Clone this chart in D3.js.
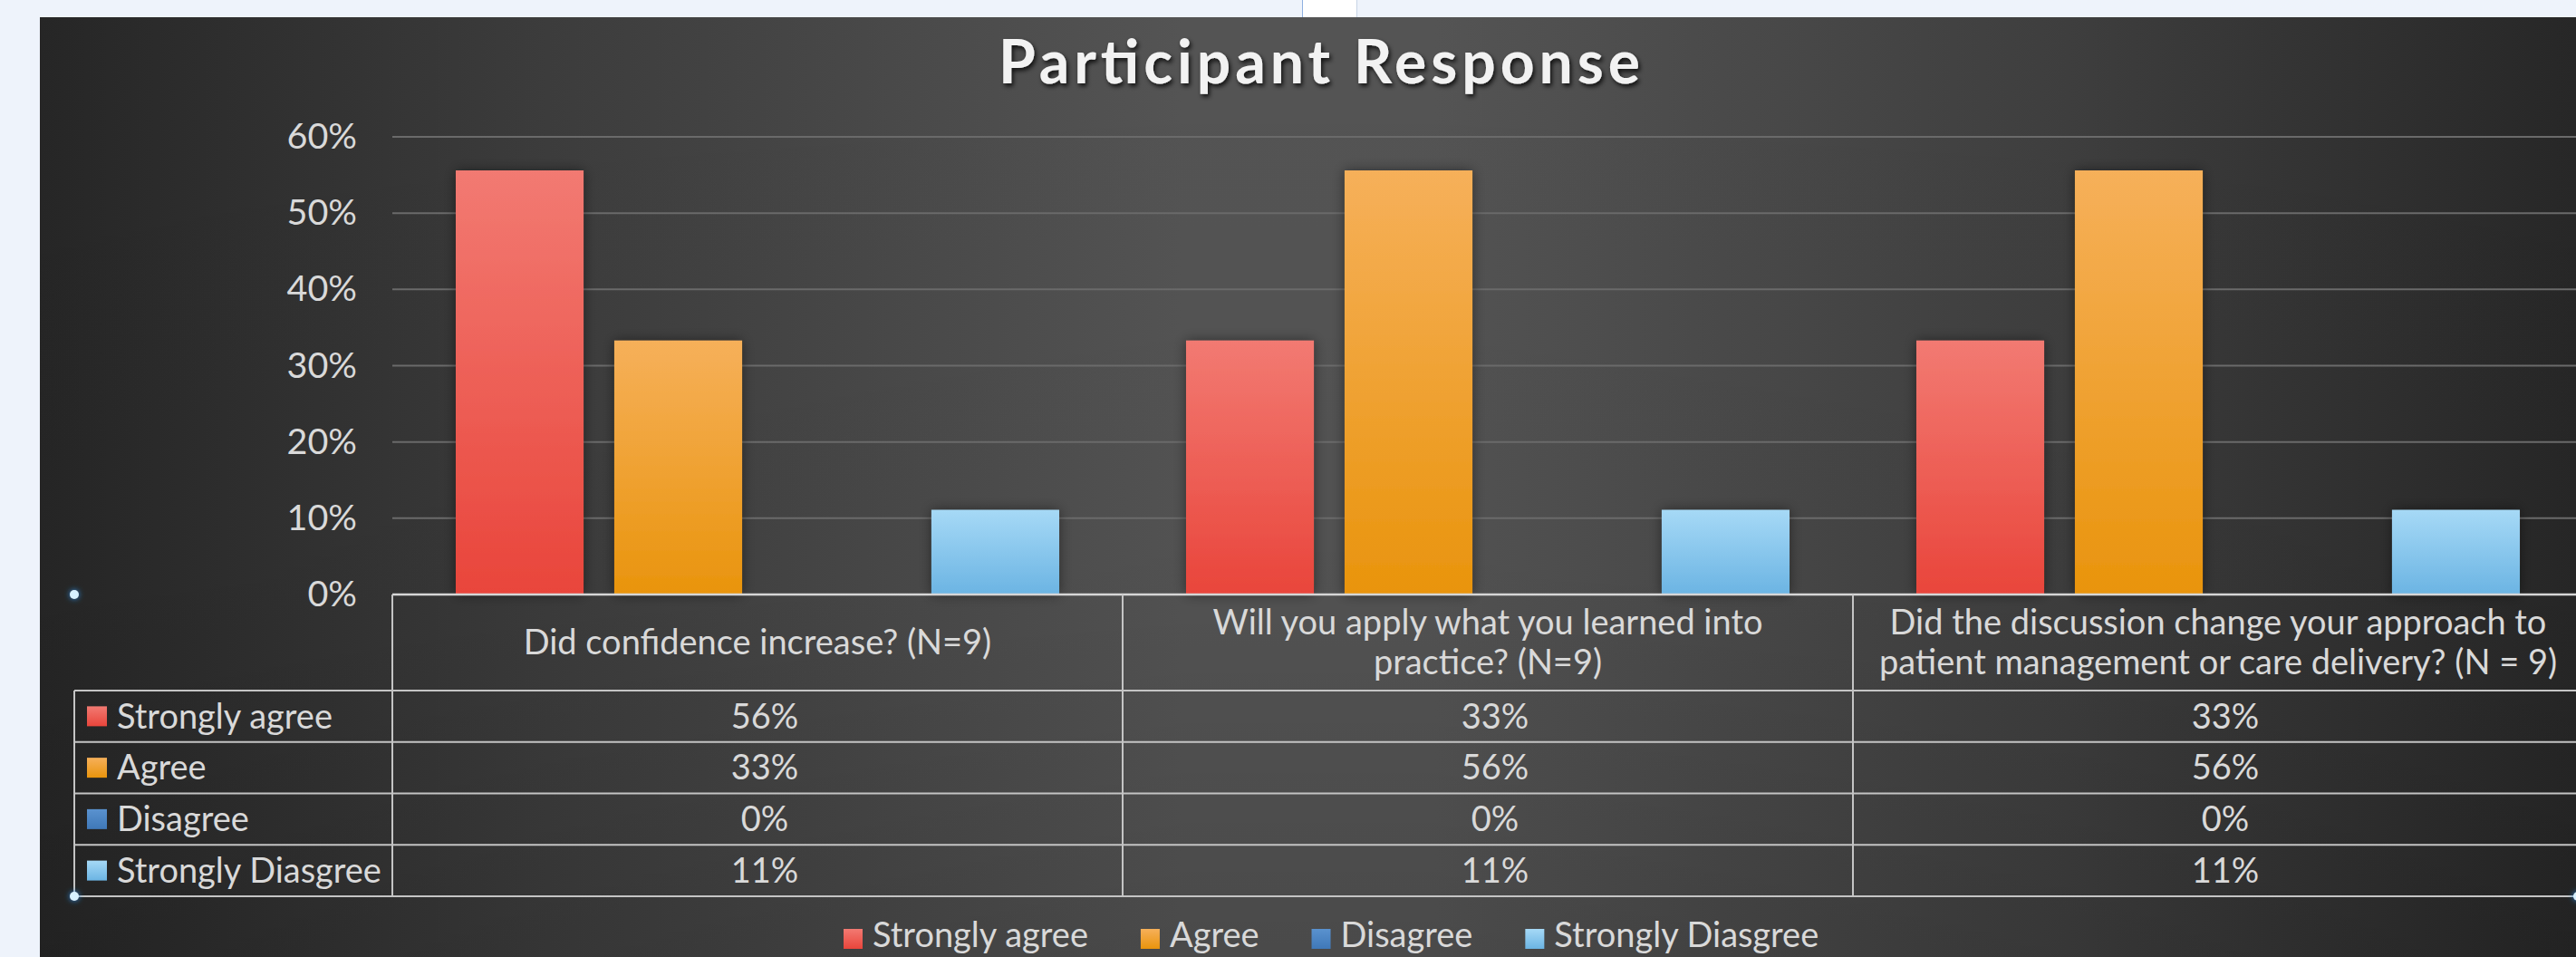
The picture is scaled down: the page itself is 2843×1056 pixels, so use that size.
<!DOCTYPE html>
<html><head><meta charset="utf-8">
<script src="https://cdn.jsdelivr.net/npm/d3@7"></script>
<style>html,body{margin:0;padding:0;background:#eef3fb;overflow:hidden}</style>
</head><body>
<svg id="chart" width="2843" height="1056"></svg>
<script>
// ---------------- data ----------------
const title = "Participant Response";
const categories = [
  "Did confidence increase? (N=9)",
  "Will you apply what you learned into practice? (N=9)",
  "Did the discussion change your approach to patient management or care delivery? (N = 9)"
];
const categoryLines = [
  ["Did confidence increase? (N=9)"],
  ["Will you apply what you learned into", "practice? (N=9)"],
  ["Did the discussion change your approach to", "patient management or care delivery? (N = 9)"]
];
const seriesNames = ["Strongly agree", "Agree", "Disagree", "Strongly Diasgree"];
const stronglyAgree = [0.556, 0.333, 0.333];
const agree = [0.333, 0.556, 0.556];
const disagree = [0, 0, 0];
const stronglyDiasgree = [0.111, 0.111, 0.111];
const yTicks = [0, 0.1, 0.2, 0.3, 0.4, 0.5, 0.6];

const seriesValues = [stronglyAgree, agree, disagree, stronglyDiasgree];
const seriesColors = [
  ["#f27a72", "#e9453b"],
  ["#f6b05a", "#e9940c"],
  ["#5a92cf", "#3f78b8"],
  ["#a6d9f6", "#6bb4e3"]
];

// ---------------- layout ----------------
const W = 2843, H = 1056;
const plotL = 433, plotR = 2851, yBase = 656, yTop = 151;
const tableL = 82, tableTop = 762, rowH = 56.75;
const fontFam = "Lato, 'Open Sans', 'DejaVu Sans', sans-serif";
const textCol = "#d9d9d9";
const lineCol = "#c4c4c4";

const svg = d3.select("#chart");
const defs = svg.append("defs");

// background gradient
const bg = defs.append("linearGradient").attr("id", "bg").attr("x1", 0).attr("x2", 1).attr("y1", 0).attr("y2", 0);
[[0, "#262626"], [0.2, "#3c3c3c"], [0.45, "#545454"], [0.55, "#545454"], [0.8, "#3e3e3e"], [1, "#272727"]]
  .forEach(([o, c]) => bg.append("stop").attr("offset", o).attr("stop-color", c));
const bgV = defs.append("linearGradient").attr("id", "bgV").attr("x1", 0).attr("x2", 0).attr("y1", 0).attr("y2", 1);
[[0, "rgba(0,0,0,0)"], [0.6, "rgba(0,0,0,0.03)"], [1, "rgba(0,0,0,0.12)"]]
  .forEach(([o, c]) => bgV.append("stop").attr("offset", o).attr("stop-color", c));

seriesColors.forEach((c, i) => {
  const g = defs.append("linearGradient").attr("id", "g" + i).attr("x1", 0).attr("x2", 0).attr("y1", 0).attr("y2", 1);
  g.append("stop").attr("offset", 0).attr("stop-color", c[0]);
  g.append("stop").attr("offset", 1).attr("stop-color", c[1]);
});

const sh = defs.append("filter").attr("id", "barShadow").attr("x", "-30%").attr("y", "-30%").attr("width", "160%").attr("height", "160%");
sh.append("feDropShadow").attr("dx", 0).attr("dy", 0).attr("stdDeviation", 7).attr("flood-color", "#000").attr("flood-opacity", 0.45);

const tsh = defs.append("filter").attr("id", "titleShadow").attr("x", "-10%").attr("y", "-30%").attr("width", "120%").attr("height", "160%");
tsh.append("feDropShadow").attr("dx", 2).attr("dy", 3).attr("stdDeviation", 2.5).attr("flood-color", "#000").attr("flood-opacity", 0.8);

const glow = defs.append("filter").attr("id", "glow").attr("x", "-150%").attr("y", "-150%").attr("width", "400%").attr("height", "400%");
glow.append("feDropShadow").attr("dx", 0).attr("dy", 0).attr("stdDeviation", 3).attr("flood-color", "#2a8be0").attr("flood-opacity", 1);

// panel
svg.append("rect").attr("x", 44).attr("y", 19).attr("width", W - 44).attr("height", H - 19).attr("fill", "url(#bg)");
svg.append("rect").attr("x", 44).attr("y", 19).attr("width", W - 44).attr("height", H - 19).attr("fill", "url(#bgV)");
// small white tab at top
svg.append("rect").attr("x", 1437).attr("y", 0).attr("width", 61).attr("height", 19).attr("fill", "#ffffff");
svg.append("line").attr("x1", 1437.5).attr("x2", 1437.5).attr("y1", 0).attr("y2", 19).attr("stroke", "#8fb0e0");
svg.append("line").attr("x1", 1497.5).attr("x2", 1497.5).attr("y1", 0).attr("y2", 19).attr("stroke", "#c8d4e6");

// font calibration: fit a reference label to its measured width
const probe = svg.append("text").attr("font-family", fontFam).attr("font-size", 40).text("Strongly Diasgree");
const fs = 40 * 292 / probe.node().getComputedTextLength();
probe.remove();

// scales
const x0 = d3.scaleBand().domain(categories).range([plotL, plotR]);
const x1 = d3.scaleBand().domain(seriesNames).range([0, x0.bandwidth()]).paddingInner(0.194).paddingOuter(0.4);
const y = d3.scaleLinear().domain([0, 0.6]).range([yBase, yTop]);
const pct = d3.format(".0%");

// gridlines
svg.append("g").selectAll("line").data(yTicks.filter(t => t > 0)).join("line")
  .attr("x1", plotL).attr("x2", plotR).attr("y1", d => y(d)).attr("y2", d => y(d))
  .attr("stroke", "#6a6a6a").attr("stroke-width", 2);

// y axis
const yAxis = svg.append("g").attr("transform", `translate(${plotL},0)`)
  .call(d3.axisLeft(y).tickValues(yTicks).tickFormat(pct).tickSize(0).tickPadding(39));
yAxis.select(".domain").remove();
yAxis.selectAll("text").attr("fill", textCol).attr("font-family", fontFam).attr("font-size", fs * 1.04);

// bars
const groups = svg.append("g").selectAll("g").data(categories).join("g")
  .attr("transform", d => `translate(${x0(d)},0)`);
groups.selectAll("rect").data((d, ci) => seriesNames.map((s, si) => ({ s, si, v: seriesValues[si][ci] })))
  .join("rect")
  .attr("x", d => x1(d.s)).attr("width", x1.bandwidth())
  .attr("y", d => y(d.v)).attr("height", d => yBase - y(d.v))
  .attr("fill", d => `url(#g${d.si})`)
  .attr("filter", d => d.v > 0 ? "url(#barShadow)" : null);

// title
svg.append("text").attr("x", 1456).attr("y", 92).attr("text-anchor", "middle")
  .attr("font-family", fontFam).attr("font-weight", "bold").attr("font-size", 66)
  .attr("fill", "#f2f2f2").attr("filter", "url(#titleShadow)")
  .attr("textLength", 708).attr("lengthAdjust", "spacing")
  .text(title);

// data table
const tbl = svg.append("g");
const rowLines = d3.range(seriesNames.length + 1).map(i => tableTop + i * rowH);
const tableBottom = rowLines[rowLines.length - 1];
tbl.append("line").attr("x1", plotL).attr("x2", plotR).attr("y1", yBase).attr("y2", yBase)
  .attr("stroke", "#d6d6d6").attr("stroke-width", 2.5);
tbl.selectAll("line.h").data(rowLines).join("line").attr("class", "h")
  .attr("x1", tableL).attr("x2", plotR).attr("y1", d => d).attr("y2", d => d)
  .attr("stroke", lineCol).attr("stroke-width", 2);
tbl.append("line").attr("x1", tableL).attr("x2", tableL).attr("y1", tableTop).attr("y2", tableBottom)
  .attr("stroke", lineCol).attr("stroke-width", 2);
tbl.selectAll("line.v").data([plotL, ...categories.map(c => x0(c) + x0.bandwidth())]).join("line").attr("class", "v")
  .attr("x1", d => d).attr("x2", d => d).attr("y1", yBase).attr("y2", tableBottom)
  .attr("stroke", lineCol).attr("stroke-width", 2);

// header text
const headerMid = (yBase + tableTop) / 2;
const lineGap = 44;
categories.forEach((c, ci) => {
  const lines = categoryLines[ci];
  const cx = x0(c) + x0.bandwidth() / 2;
  lines.forEach((ln, li) => {
    tbl.append("text").attr("x", cx).attr("y", headerMid + (li - (lines.length - 1) / 2) * lineGap)
      .attr("dy", "0.35em").attr("text-anchor", "middle")
      .attr("font-family", fontFam).attr("font-size", fs).attr("fill", textCol).text(ln);
  });
});

// row labels + values
seriesNames.forEach((s, si) => {
  const cy = tableTop + si * rowH + rowH / 2;
  tbl.append("rect").attr("x", 96).attr("y", cy - 11).attr("width", 22).attr("height", 22).attr("fill", `url(#g${si})`);
  tbl.append("text").attr("x", 129).attr("y", cy).attr("dy", "0.35em")
    .attr("font-family", fontFam).attr("font-size", fs).attr("fill", textCol).text(s);
  categories.forEach((c, ci) => {
    tbl.append("text").attr("x", x0(c) + x0.bandwidth() / 2 + 8).attr("y", cy).attr("dy", "0.35em")
      .attr("text-anchor", "middle").attr("font-family", fontFam).attr("font-size", fs)
      .attr("fill", textCol).text(pct(seriesValues[si][ci]));
  });
});

// selection handles
[[tableL, yBase], [tableL, tableBottom], [plotR - 6, tableBottom]].forEach(([cx, cy]) => {
  svg.append("circle").attr("cx", cx).attr("cy", cy).attr("r", 5).attr("fill", "#d8f1ff").attr("filter", "url(#glow)");
});

// legend (baseline kept clear of the bottom edge)
const leg = svg.append("g");
let lx = 931;
seriesNames.forEach((s, si) => {
  leg.append("rect").attr("x", lx).attr("y", 1025).attr("width", 21).attr("height", 22).attr("fill", `url(#g${si})`);
  const t = leg.append("text").attr("x", lx + 32).attr("y", 1045)
    .attr("font-family", fontFam).attr("font-size", fs).attr("fill", textCol).text(s);
  lx += 32 + t.node().getComputedTextLength() + 58;
});
</script>
</body></html>
